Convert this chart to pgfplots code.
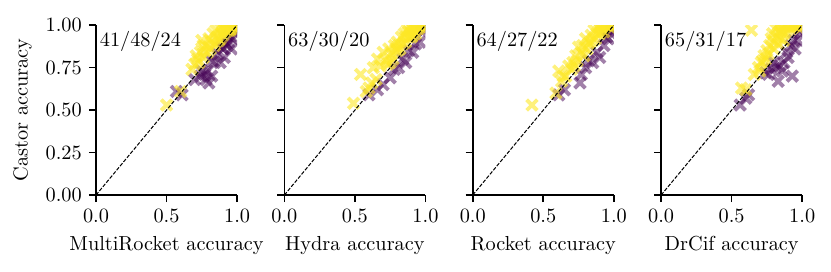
\documentclass[border=0pt]{standalone}
\usepackage{pgfplots}
\pgfplotsset{compat=1.18}
\definecolor{vyel}{RGB}{253,231,37}
\definecolor{vpur}{RGB}{68,1,84}
\pgfplotsset{
  panel/.style={
    scale only axis, width=69.5pt, height=83.7pt,
    xmin=0, xmax=1, ymin=0, ymax=1,
    axis x line*=bottom, axis y line*=left,
    axis line style={-, line width=0.8pt},
    tick align=outside, major tick length=3.5pt,
    every tick/.style={black, line width=0.8pt},
    xtick={0,0.5,1}, ytick={0,0.25,0.5,0.75,1},
    xticklabel style={/pgf/number format/.cd, fixed, fixed zerofill, precision=1},
    yticklabel style={/pgf/number format/.cd, fixed, fixed zerofill, precision=2},
    clip marker paths=true,
    anchor=south west,
  },
  yp/.style={only marks, mark=x, mark size=3.7pt, color=vyel, mark options={line width=1.9pt, opacity=0.6}},
  pp/.style={only marks, mark=x, mark size=3.7pt, color=vpur, mark options={line width=1.9pt, opacity=0.5}},
  diag/.style={black, line width=0.5pt, dash pattern=on 1.85pt off 0.8pt},
}
\begin{document}
\begin{tikzpicture}
\useasboundingbox (-47.3pt,-37.9pt) rectangle (362.1pt,96.1pt);
% Panel 1
\begin{axis}[panel, at={(0pt,0pt)}, xlabel={MultiRocket accuracy}, ylabel={Castor accuracy}]
\addplot[pp] coordinates {(0.61,0.59)(0.57,0.61)(0.70,0.68)(0.74,0.70)(0.77,0.71)(0.78,0.68)(0.80,0.66)(0.82,0.70)(0.75,0.73)(0.84,0.78)(0.88,0.78)(0.91,0.81)(0.96,0.86)(0.93,0.88)(0.97,0.92)(0.99,0.95)(0.90,0.86)(0.86,0.83)(0.95,0.93)(0.98,0.97)(1.0,0.97)(0.94,0.90)(0.92,0.89)(0.89,0.87)(0.82,0.79)(0.79,0.73)};
\addplot[yp] coordinates {(0.50,0.53)(0.60,0.61)(0.68,0.74)(0.70,0.77)(0.72,0.80)(0.74,0.84)(0.75,0.91)(0.78,0.88)(0.80,0.92)(0.82,0.90)(0.83,0.95)(0.85,0.97)(0.86,0.93)(0.88,0.98)(0.89,0.95)(0.90,0.99)(0.91,0.97)(0.92,1.0)(0.93,0.98)(0.94,0.99)(0.95,1.0)(0.96,0.99)(0.97,1.0)(0.98,1.0)(0.87,0.91)(0.84,0.88)(0.79,0.84)(0.76,0.81)(0.81,0.86)(0.90,0.94)(0.92,0.96)(0.95,0.97)(0.99,1.0)(1.0,1.0)(0.73,0.78)(0.77,0.85)(0.88,0.92)(0.94,0.97)(0.96,0.98)(0.98,0.99)(0.85,0.90)(0.71,0.82)(0.76,0.88)};
\addplot[diag] coordinates {(0,0)(1,1)};
\node[anchor=north west, inner sep=1pt] at (rel axis cs:0.01,0.98) {41/48/24};
\end{axis}
% Panel 2
\begin{axis}[panel, at={(92.8pt,0pt)}, xlabel={Hydra accuracy}, yticklabels={}]
\addplot[pp] coordinates {(0.60,0.59)(0.66,0.62)(0.70,0.65)(0.75,0.69)(0.81,0.75)(0.86,0.78)(0.91,0.84)(0.96,0.90)(0.98,0.96)(0.84,0.80)(0.93,0.89)(0.78,0.74)(0.99,0.97)(0.88,0.85)};
\addplot[yp] coordinates {(0.49,0.54)(0.54,0.71)(0.60,0.63)(0.63,0.75)(0.66,0.80)(0.70,0.84)(0.68,0.76)(0.72,0.79)(0.74,0.86)(0.76,0.83)(0.78,0.88)(0.80,0.90)(0.82,0.86)(0.83,0.93)(0.85,0.95)(0.86,0.90)(0.87,0.97)(0.88,0.93)(0.89,0.99)(0.90,0.96)(0.91,0.94)(0.92,0.99)(0.93,0.97)(0.94,1.0)(0.95,0.98)(0.96,1.0)(0.97,0.99)(0.98,1.0)(0.99,1.0)(0.80,0.85)(0.84,0.89)(0.77,0.80)(0.73,0.77)(0.88,0.96)(0.91,0.98)(0.86,0.93)(0.81,0.88)(0.95,0.99)(0.75,0.78)(0.79,0.86)(0.65,0.68)(0.62,0.66)(0.58,0.61)(0.90,0.93)(0.93,0.95)(1.0,1.0)};
\addplot[diag] coordinates {(0,0)(1,1)};
\node[anchor=north west, inner sep=1pt] at (rel axis cs:0.01,0.98) {63/30/20};
\end{axis}
% Panel 3
\begin{axis}[panel, at={(185.6pt,0pt)}, xlabel={Rocket accuracy}, yticklabels={}]
\addplot[pp] coordinates {(0.61,0.59)(0.65,0.62)(0.76,0.66)(0.77,0.71)(0.80,0.75)(0.85,0.78)(0.90,0.81)(0.93,0.88)(0.96,0.92)(0.98,0.95)(0.88,0.84)(0.82,0.79)(0.99,0.97)(0.95,0.93)};
\addplot[yp] coordinates {(0.42,0.53)(0.59,0.60)(0.61,0.73)(0.63,0.67)(0.68,0.76)(0.66,0.70)(0.71,0.78)(0.73,0.82)(0.75,0.87)(0.77,0.84)(0.80,0.92)(0.82,0.89)(0.84,0.94)(0.85,0.91)(0.86,0.97)(0.88,0.95)(0.89,0.99)(0.90,0.97)(0.91,1.0)(0.92,0.98)(0.93,1.0)(0.94,0.99)(0.95,1.0)(0.96,1.0)(0.97,0.99)(0.98,1.0)(0.70,0.74)(0.78,0.88)(0.81,0.86)(0.87,0.92)(0.83,0.90)(0.79,0.82)(0.74,0.79)(0.90,0.95)(0.93,0.96)(0.99,1.0)(0.64,0.70)(0.72,0.76)};
\addplot[diag] coordinates {(0,0)(1,1)};
\node[anchor=north west, inner sep=1pt] at (rel axis cs:0.01,0.98) {64/27/22};
\end{axis}
% Panel 4
\begin{axis}[panel, at={(278.4pt,0pt)}, xlabel={DrCif accuracy}, yticklabels={}]
\addplot[pp] coordinates {(0.56,0.53)(0.62,0.59)(0.60,0.57)(0.76,0.71)(0.81,0.75)(0.84,0.76)(0.86,0.73)(0.83,0.67)(0.93,0.70)(0.80,0.78)(0.87,0.78)(0.90,0.81)(0.95,0.86)(0.97,0.91)(0.99,0.95)(0.92,0.88)(0.78,0.74)(0.89,0.84)(0.74,0.72)(0.98,0.97)(0.94,0.91)};
\addplot[yp] coordinates {(0.57,0.63)(0.60,0.62)(0.64,0.97)(0.69,0.75)(0.71,0.78)(0.73,0.82)(0.75,0.85)(0.77,0.88)(0.78,0.92)(0.79,0.95)(0.80,0.90)(0.81,0.98)(0.82,0.93)(0.83,1.0)(0.84,0.96)(0.85,0.92)(0.86,0.99)(0.87,0.95)(0.88,1.0)(0.89,0.97)(0.90,0.99)(0.91,1.0)(0.92,0.98)(0.93,1.0)(0.94,0.99)(0.95,1.0)(0.96,1.0)(0.97,0.99)(0.98,1.0)(0.76,0.83)(0.74,0.80)(0.72,0.79)(0.85,0.97)(0.80,0.86)(0.83,0.89)(0.87,0.91)(0.99,1.0)(0.70,0.73)(0.66,0.71)};
\addplot[diag] coordinates {(0,0)(1,1)};
\node[anchor=north west, inner sep=1pt] at (rel axis cs:0.01,0.98) {65/31/17};
\end{axis}
\end{tikzpicture}
\end{document}
